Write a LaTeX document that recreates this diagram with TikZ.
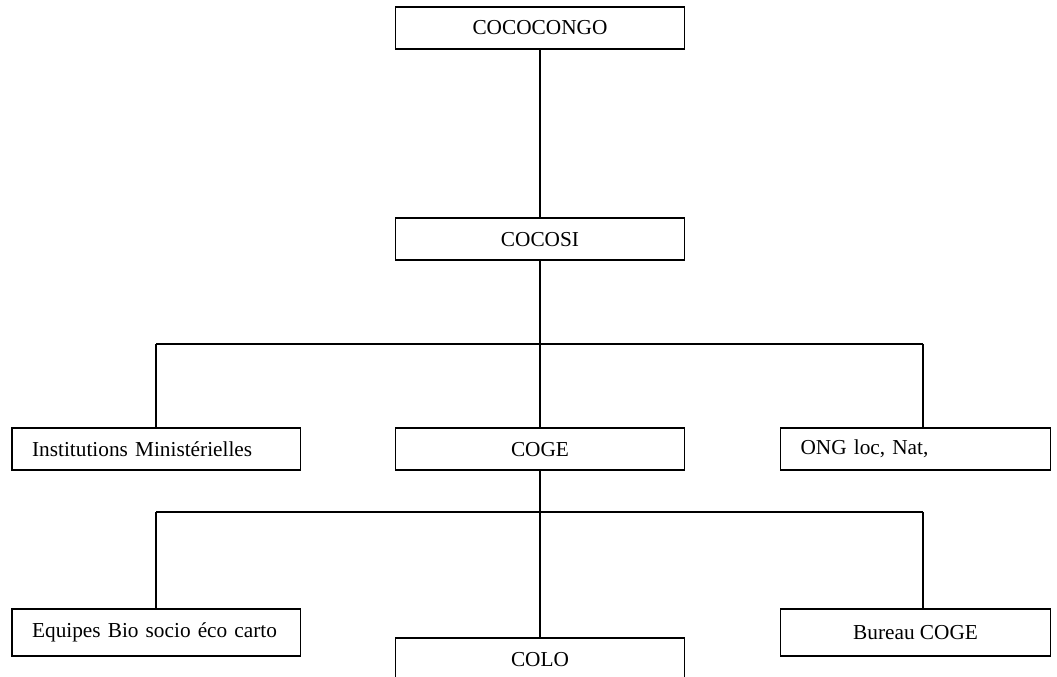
\documentclass[tikz,border=0pt]{standalone}
\usepackage{fontspec}
\setmainfont{Liberation Serif}
\usetikzlibrary{positioning}

\begin{document}
\begin{tikzpicture}[x=0.5633pt, y=-0.5633pt,
    box/.style={draw, line width=1pt, inner sep=0pt, outer sep=0pt, minimum width=162.8pt, minimum height=23.7pt, font=\fontsize{12}{14}\selectfont},
    leftbox/.style={box, minimum width=0pt, align=left, inner xsep=11.3pt, text width=#1},
    link/.style={line width=1pt}]
          \useasboundingbox (0,0) rectangle (1057,677);
          \clip (0,0) rectangle (1057,677);

          % Top of the chart
          \node[box] (COCOCONGO) at (540,28) {COCOCONGO};
          \node[box, below=95.2pt of COCOCONGO] (COCOSI) {COCOSI};

          % Second level
          \node[box, below=94.6pt of COCOSI] (COGE) {COGE};
          \node[leftbox=139.9pt, left=53.5pt of COGE] (INST) {Institutions Ministérielles};
          \node[leftbox=129.5pt, right=54.1pt of COGE] (ONG) {ONG loc, Nat,};

          % Third level
          \node[box, below=94.6pt of COGE] (COLO) {COLO};
          \node[leftbox=139.9pt, minimum height=26.5pt, below=78.3pt of INST] (EQUIP) {Equipes Bio socio éco carto};
          \node[box, minimum width=152.1pt, minimum height=26.5pt, below=78.3pt of ONG] (BUREAU) {Bureau COGE};

          % Bus lines
          \coordinate (busM) at (540,344);
          \coordinate (busL) at (INST |- busM);
          \coordinate (busR) at (923,344);
          \coordinate (busM2) at (540,512);
          \coordinate (busL2) at (EQUIP |- busM2);
          \coordinate (busR2) at (923,512);

          % Connectors
          \draw[link] (COCOCONGO) -- (COCOSI);
          \draw[link] (COCOSI) -- (busM);
          \draw[link] (busL) -- (busR);
          \draw[link] (busL) -- (INST);
          \draw[link] (busM) -- (COGE);
          \draw[link] (busR) -- (busR |- ONG.north);

          \draw[link] (COGE) -- (COLO);
          \draw[link] (busL2) -- (busR2);
          \draw[link] (busL2) -- (EQUIP);
          \draw[link] (busR2) -- (busR2 |- BUREAU.north);
        \end{tikzpicture}
\end{document}
